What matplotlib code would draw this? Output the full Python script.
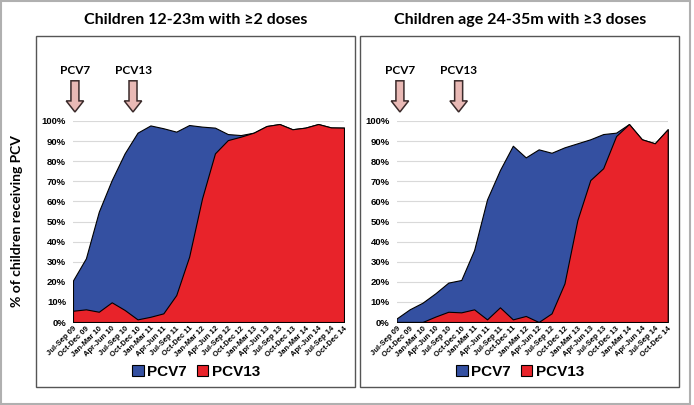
import matplotlib
matplotlib.use("Agg")
import matplotlib.pyplot as plt
from matplotlib.patches import Rectangle, FancyArrow, Patch
import numpy as np

quarters = ["Jul-Sep 09", "Oct-Dec 09", "Jan-Mar 10", "Apr-Jun 10", "Jul-Sep 10", "Oct-Dec 10",
            "Jan-Mar 11", "Apr-Jun 11", "Jul-Sep 11", "Oct-Dec 11", "Jan-Mar 12", "Apr-Jun 12",
            "Jul-Sep 12", "Oct-Dec 12", "Jan-Mar 13", "Apr-Jun 13", "Jul-Sep 13", "Oct-Dec 13",
            "Jan-Mar 14", "Apr-Jun 14", "Jul-Sep 14", "Oct-Dec 14"]

# Left panel: children 12-23m with >=2 doses (total any PCV = top of blue, PCV13 = red)
left_total = [20.7, 31.7, 54.9, 70.6, 83.9, 94.2, 97.8, 96.4, 94.7, 98.0, 97.2, 96.7,
              93.5, 93.0, 94.2, 97.5, 98.5, 95.9, 96.7, 98.5, 96.8, 96.7]
left_pcv13 = [5.6, 6.3, 5.1, 9.8, 6.0, 1.3, 2.6, 4.3, 13.4, 32.5, 61.5, 83.9,
              90.5, 92.2, 94.2, 97.5, 98.5, 95.9, 96.7, 98.5, 96.8, 96.7]

# Right panel: children 24-35m with >=3 doses
right_total = [1.8, 6.3, 9.6, 14.3, 19.6, 20.9, 35.8, 61.0, 75.6, 87.7, 81.9, 85.9,
               84.2, 86.9, 88.9, 90.9, 93.5, 94.2, 98.5, 90.9, 88.9, 95.9]
right_pcv13 = [0.0, 0.0, 0.0, 2.7, 5.1, 4.8, 6.3, 1.3, 7.3, 1.3, 3.0, 0.0,
               4.3, 19.2, 50.7, 70.6, 76.5, 92.5, 98.5, 90.9, 88.9, 95.9]

titles = ["Children 12-23m with \u22652 doses", "Children age 24-35m with \u22653 doses"]
arrow_pos = [(0.15, 4.65), (0.25, 4.8)]

BLUE = "#3450A1"
RED = "#E8232A"
PINK = "#E9B9B5"

W, H = 694, 405
fig = plt.figure(figsize=(W / 100, H / 100), dpi=100)
fig.patch.set_facecolor("white")

def fx(px):
    return px / W

def fy(py):
    return 1 - py / H

# outer border
fig.patches.append(Rectangle((fx(1), fy(404)), fx(689), 403 / H, transform=fig.transFigure,
                             fill=False, edgecolor="#b0b0b0", linewidth=1.5))
# panel boxes
for x0, x1 in [(36, 355), (360, 679)]:
    fig.patches.append(Rectangle((fx(x0), fy(387)), fx(x1 - x0), (387 - 36) / H,
                                 transform=fig.transFigure, fill=False,
                                 edgecolor="#555555", linewidth=1.0))

x = np.arange(len(quarters))
panels = [(73, left_total, left_pcv13, 196), (396.7, right_total, right_pcv13, 520)]

for k, (left_px, tot, p13, cx) in enumerate(panels):
    ax = fig.add_axes([fx(left_px), fy(322), 271 / W, (322 - 121) / H])
    ax.set_xlim(0, len(quarters) - 1)
    ax.set_ylim(0, 100)
    ax.fill_between(x, 0, tot, facecolor=BLUE, edgecolor="black", linewidth=0.8, zorder=2)
    ax.fill_between(x, 0, p13, facecolor=RED, edgecolor="black", linewidth=0.8, zorder=3)
    ax.set_yticks(np.arange(0, 101, 10))
    ax.set_yticklabels([f"{v}%" for v in range(0, 101, 10)], fontsize=6.8,
                       fontweight="bold", family="Liberation Sans")
    ax.yaxis.grid(True, color="#d9d9d9", linewidth=0.8, zorder=0)
    ax.set_axisbelow(True)
    ax.tick_params(axis="y", length=0, pad=5)
    ax.tick_params(axis="x", length=0, pad=2)
    ax.set_xticks(x)
    ax.set_xticklabels(quarters, rotation=45, ha="right", va="top", rotation_mode="anchor",
                       fontsize=5.5, fontweight="bold", family="Liberation Sans")
    for s in ax.spines.values():
        s.set_visible(False)

    # arrows
    for xa, lab in zip(arrow_pos[k], ["PCV7", "PCV13"]):
        arr = FancyArrow(xa, 120, 0, -15.5, width=0.62, head_width=1.35, head_length=5.5,
                         length_includes_head=True, facecolor=PINK, edgecolor="#3a2a2a",
                         linewidth=1.1, clip_on=False, zorder=5)
        ax.add_patch(arr)
        ax.text(xa, 122.5, lab, ha="center", va="bottom", fontsize=8.5, fontweight="bold",
                family="Lato", clip_on=False)

    # title
    fig.text(fx(cx), fy(20), titles[k], ha="center", va="center", fontsize=11.5,
             fontweight="bold", family="Lato")

    handles = [Patch(facecolor=BLUE, edgecolor="black", linewidth=0.8, label="PCV7"),
               Patch(facecolor=RED, edgecolor="black", linewidth=0.8, label="PCV13")]
    fig.legend(handles=handles, loc="center", bbox_to_anchor=(fx(cx), fy(372)), ncol=2,
               frameon=False, prop={"family": "Liberation Sans", "weight": "bold", "size": 11},
               handlelength=0.75, handleheight=0.75, handletextpad=0.2, columnspacing=0.7,
               borderaxespad=0, borderpad=0)

fig.text(fx(17), fy(221), "% of children receiving PCV", rotation=90, ha="center", va="center",
         fontsize=10, fontweight="bold", family="Lato")

fig.savefig("out.png", dpi=100)
